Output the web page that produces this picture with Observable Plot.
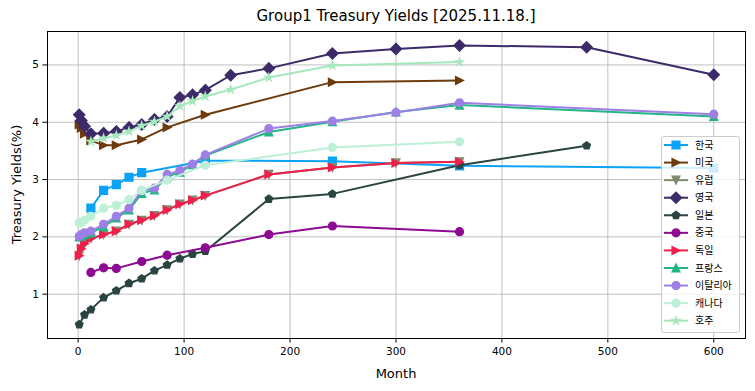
<!DOCTYPE html>
<html><head><meta charset="utf-8">
<script src="https://cdn.jsdelivr.net/npm/d3@7"></script>
<script src="https://cdn.jsdelivr.net/npm/@observablehq/plot@0.6"></script>
<style>body{margin:0;background:#fff} svg{display:block}</style>
</head><body><div id="chart"></div>
<script>
const titleText = "Group1 Treasury Yields [2025.11.18.]";
const xLabel = "Month";
const yLabel = "Treasury Yields(%)";
const xTicks = [0, 100, 200, 300, 400, 500, 600];
const yTicks = [1, 2, 3, 4, 5];

const countries = ["한국", "미국", "유럽", "영국", "일본", "중국", "독일", "프랑스", "이탈리아", "캐나다", "호주"];
const colors = ["#0ba3f6", "#6e3b0c", "#7f8a6e", "#3d2b69", "#2a4442", "#8d0a92", "#f01f4b", "#22b585", "#9d7fe6", "#bdf0d6", "#a6e8bc"];
const markers = ["square", "triangleRight", "triangleDown", "diamond", "pentagon", "circle", "triangleRight", "triangleUp", "circle", "circle", "star"];

const koreaMonths = [12, 24, 36, 48, 60, 120, 240, 360, 600];
const koreaYields = [2.50, 2.81, 2.91, 3.04, 3.12, 3.33, 3.32, 3.24, 3.20];

const usMonths = [1, 3, 6, 12, 24, 36, 60, 84, 120, 240, 360];
const usYields = [3.96, 3.90, 3.80, 3.68, 3.60, 3.60, 3.70, 3.91, 4.13, 4.70, 4.73];

const euMonths = [1, 3, 6, 12, 24, 36, 48, 60, 72, 84, 96, 108, 120, 180, 240, 300, 360];
const euYields = [1.67, 1.79, 1.88, 1.97, 2.04, 2.10, 2.22, 2.29, 2.37, 2.47, 2.57, 2.64, 2.72, 3.09, 3.21, 3.29, 3.31];

const ukMonths = [1, 3, 6, 12, 24, 36, 48, 60, 72, 84, 96, 108, 120, 144, 180, 240, 300, 360, 480, 600];
const ukYields = [4.13, 4.03, 3.93, 3.80, 3.81, 3.84, 3.91, 3.96, 4.05, 4.10, 4.43, 4.48, 4.56, 4.82, 4.94, 5.20, 5.28, 5.34, 5.31, 4.83];

const japanMonths = [1, 6, 12, 24, 36, 48, 60, 72, 84, 96, 108, 120, 180, 240, 360, 480];
const japanYields = [0.47, 0.64, 0.73, 0.94, 1.06, 1.19, 1.27, 1.41, 1.51, 1.62, 1.70, 1.75, 2.66, 2.75, 3.25, 3.59];

const chinaMonths = [12, 24, 36, 60, 84, 120, 180, 240, 360];
const chinaYields = [1.38, 1.46, 1.45, 1.57, 1.68, 1.81, 2.04, 2.19, 2.09];

const germanyMonths = [1, 3, 6, 12, 24, 36, 48, 60, 72, 84, 96, 108, 120, 180, 240, 300, 360];
const germanyYields = [1.67, 1.79, 1.88, 1.97, 2.04, 2.10, 2.22, 2.29, 2.37, 2.47, 2.57, 2.64, 2.72, 3.09, 3.21, 3.29, 3.31];

const franceMonths = [1, 3, 6, 12, 24, 36, 48, 60, 72, 84, 96, 108, 120, 180, 240, 300, 360, 600];
const franceYields = [2.00, 2.02, 2.04, 2.07, 2.18, 2.33, 2.47, 2.76, 2.82, 3.05, 3.13, 3.26, 3.42, 3.83, 4.01, 4.18, 4.30, 4.10];

const italyMonths = [1, 3, 6, 12, 24, 36, 48, 60, 72, 84, 96, 108, 120, 180, 240, 300, 360, 600];
const italyYields = [2.01, 2.04, 2.07, 2.10, 2.22, 2.36, 2.50, 2.81, 2.85, 3.09, 3.16, 3.27, 3.43, 3.89, 4.02, 4.17, 4.34, 4.14];

const canadaMonths = [1, 3, 6, 12, 24, 36, 48, 60, 84, 120, 240, 360];
const canadaYields = [2.24, 2.25, 2.29, 2.36, 2.50, 2.55, 2.65, 2.81, 2.99, 3.25, 3.56, 3.66];

const australiaMonths = [12, 24, 36, 48, 60, 72, 84, 96, 108, 120, 144, 180, 240, 360];
const australiaYields = [3.66, 3.72, 3.77, 3.84, 3.94, 4.01, 4.10, 4.28, 4.37, 4.45, 4.57, 4.78, 4.99, 5.05];

const seriesMonths = [koreaMonths, usMonths, euMonths, ukMonths, japanMonths, chinaMonths, germanyMonths, franceMonths, italyMonths, canadaMonths, australiaMonths];
const seriesYields = [koreaYields, usYields, euYields, ukYields, japanYields, chinaYields, germanyYields, franceYields, italyYields, canadaYields, australiaYields];

// custom marker shapes (size = pi r^2)
function mk(fn) { return { draw(ctx, size) { fn(ctx, Math.sqrt(size / Math.PI)); } }; }
function poly(ctx, pts) { ctx.moveTo(pts[0][0], pts[0][1]); for (let i = 1; i < pts.length; i++) ctx.lineTo(pts[i][0], pts[i][1]); ctx.closePath(); }
const symbols = {
  square: mk((c, r) => poly(c, [[-r, -r], [r, -r], [r, r], [-r, r]])),
  circle: mk((c, r) => { c.moveTo(r, 0); c.arc(0, 0, r, 0, 2 * Math.PI); c.closePath(); }),
  diamond: mk((c, r) => { const d = r * Math.SQRT2; poly(c, [[0, -d], [d, 0], [0, d], [-d, 0]]); }),
  triangleUp: mk((c, r) => poly(c, [[0, -r], [r, r], [-r, r]])),
  triangleDown: mk((c, r) => poly(c, [[0, r], [-r, -r], [r, -r]])),
  triangleRight: mk((c, r) => poly(c, [[r, 0], [-r, r], [-r, -r]])),
  pentagon: mk((c, r) => poly(c, d3.range(5).map(i => { const a = -Math.PI / 2 + i * 2 * Math.PI / 5; return [r * Math.cos(a), r * Math.sin(a)]; }))),
  star: mk((c, r) => poly(c, d3.range(10).map(i => { const a = -Math.PI / 2 + i * Math.PI / 5; const rr = i % 2 ? r * 0.381966 : r; return [rr * Math.cos(a), rr * Math.sin(a)]; })))
};

const R = 3.95;
const rows = countries.flatMap((name, i) => seriesMonths[i].map((m, j) => ({ country: name, idx: i, month: m, yld: seriesYields[i][j] })));

const W = 755, H = 391, ML = 47, MR = 10, MT = 31, MB = 53;
const gridStyle = { stroke: "#b0b0b0", strokeOpacity: 1, strokeWidth: 0.8 };

const marks = [
  Plot.gridX(xTicks, gridStyle),
  Plot.gridY(yTicks, gridStyle),
  ...countries.flatMap((name, i) => {
    const d = rows.filter(r => r.idx === i);
    return [
      Plot.line(d, { x: "month", y: "yld", stroke: colors[i], strokeWidth: 2 }),
      Plot.dot(d, { x: "month", y: "yld", symbol: symbols[markers[i]], r: R, fill: colors[i], stroke: colors[i], strokeWidth: 1.3 })
    ];
  }),
  Plot.frame({ stroke: "black", strokeWidth: 1 }),
  Plot.axisX(xTicks, { tickSize: 4.6, tickPadding: 4, fontSize: 10.5, tickFormat: d => String(d), label: null }),
  Plot.axisY(yTicks, { tickSize: 4.6, tickPadding: 4, fontSize: 10.5, tickFormat: d => String(d), label: null })
];

const svg = Plot.plot({
  width: W, height: H,
  marginLeft: ML, marginRight: MR, marginTop: MT, marginBottom: MB,
  x: { domain: [-28.95, 629.95] },
  y: { domain: [0.2265, 5.5835] },
  style: { fontFamily: "DejaVu Sans", fontSize: "10.5px", color: "black", background: "white" },
  marks
});
document.getElementById("chart").appendChild(svg);

const s = d3.select(svg);
const cx = (ML + (W - MR)) / 2;
s.append("text").attr("x", cx).attr("y", 21).attr("text-anchor", "middle")
  .attr("font-family", "DejaVu Sans").attr("font-size", 15).attr("fill", "black").text(titleText);
s.append("text").attr("x", cx).attr("y", 378).attr("text-anchor", "middle")
  .attr("font-family", "DejaVu Sans").attr("font-size", 13).attr("fill", "black").text(xLabel);
s.append("text").attr("transform", `translate(20.5,${(MT + H - MB) / 2}) rotate(-90)`).attr("text-anchor", "middle")
  .attr("font-family", "DejaVu Sans").attr("font-size", 13).attr("fill", "black").text(yLabel);

// legend
const lg = s.append("g");
lg.append("rect").attr("x", 661.5).attr("y", 136.5).attr("width", 78).attr("height", 196).attr("rx", 2.5)
  .attr("fill", "white").attr("fill-opacity", 0.8).attr("stroke", "#cccccc");
countries.forEach((name, i) => {
  const cy = 145 + i * 17.57;
  lg.append("line").attr("x1", 664).attr("x2", 688).attr("y1", cy).attr("y2", cy)
    .attr("stroke", colors[i]).attr("stroke-width", 2);
  const p = d3.path();
  symbols[markers[i]].draw(p, R * R * Math.PI);
  lg.append("path").attr("d", p.toString()).attr("transform", `translate(676,${cy})`)
    .attr("fill", colors[i]).attr("stroke", colors[i]).attr("stroke-width", 1.3);
  lg.append("text").attr("x", 695).attr("y", cy).attr("dy", "0.36em").attr("text-anchor", "start")
    .attr("font-family", "'Noto Sans CJK KR', 'DejaVu Sans'").attr("font-size", 10).attr("fill", "black").text(name);
});
</script></body></html>
